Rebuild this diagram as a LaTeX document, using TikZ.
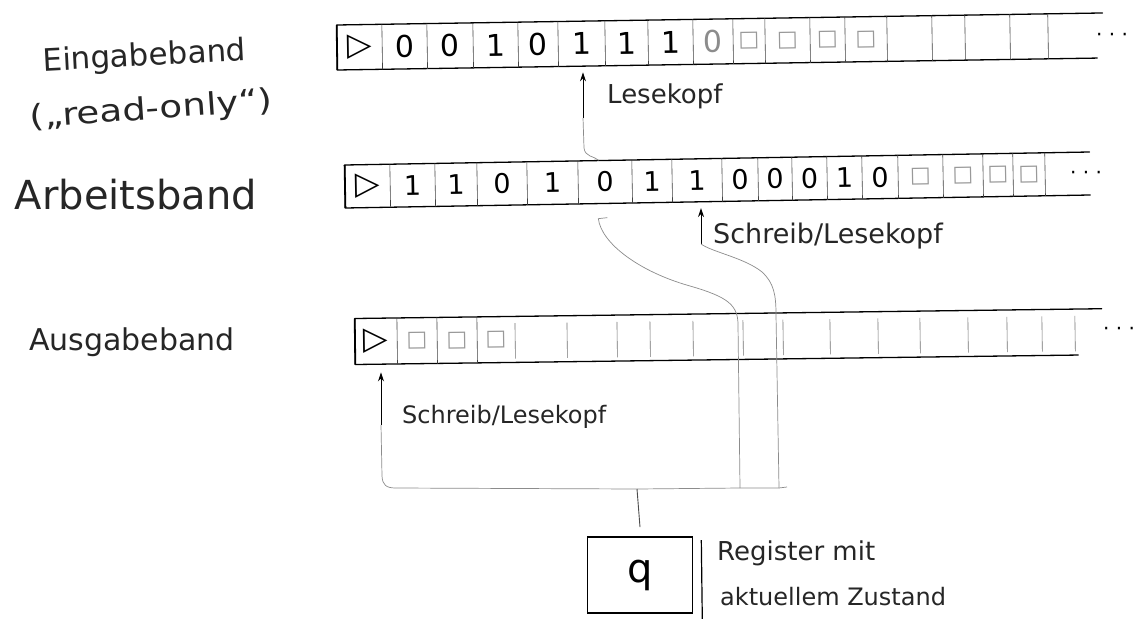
\documentclass[tikz,border=0pt]{standalone}
\usepackage{fontspec}
\setmainfont{DejaVu Sans}
\usetikzlibrary{arrows.meta}
\newcommand{\fs}[1]{\fontsize{#1}{#1}\selectfont}
\newcommand{\tpstart}{{\fontsize{32}{32}\selectfont ▷}}
\newcommand{\tpblank}{{\fontsize{22}{22}\selectfont □}}
\begin{document}
\begin{tikzpicture}[x=1pt,y=-1pt,
  tapeline/.style={line width=1.3pt, line cap=round, line join=round},
  sepline/.style={line width=0.6pt, black!75},
  sepshort/.style={line width=0.6pt, black!55, shorten <=7pt, shorten >=4pt},
  tapecell/.style={inner sep=0pt, minimum height=#1},
  conn/.style={line width=0.7pt, black!45},
  headarrow/.style={line width=1pt, -{Stealth[length=9pt,width=6pt]}, shorten >=6pt},
  hand/.style={inner sep=0pt, anchor=base west, text=black!85},
  dotsnode/.style={inner sep=0pt, font=\fs{20}},
  regbox/.style={draw, line width=1.6pt, minimum width=105, minimum height=76, inner sep=0pt, font=\fs{40}},
]
\fill[white] (0,0) rectangle (1139,618);
\useasboundingbox (0,0) rectangle (1139,618);

% ---------- labels on the left ----------
\node[hand, font=\fs{31}, rotate=3, anchor=base] (lblE1) at (145,66) {Eingabeband};
\node[hand, font=\fs{31}, rotate=4, xscale=1.2, anchor=base] (lblE2) at (152,119) {(„read-only“)};
\node[hand, font=\fs{40}, anchor=base] (lblA) at (136,209) {Arbeitsband};
\node[hand, font=\fs{30}, anchor=base] (lblO) at (132,350) {Ausgabeband};

% ---------- tape 1: Eingabeband ----------
\begin{scope}[shift={(337,47.5)}, rotate=0.9, transform shape]
  \draw[tapeline] (766,-22.5) -- (0,-22.5) -- (0,22.5) -- (760,22.5);
  \draw[line width=1.8pt] (0,-22.5) -- (0,22.5);
  \foreach \a/\b/\s/\c [count=\i from 0] in {
      0/45/\tpstart/black, 45/90/0/black, 90/136/0/black, 136/181/1/black,
      181/221/0/black, 221/268/1/black, 268/311/1/black, 311/356/1/black,
      356/396/0/black!45, 396/428/\tpblank/black!40, 428/473/\tpblank/black!40,
      473/508/\tpblank/black!40, 508/550/\tpblank/black!40, 550/595//black,
      595/628//black, 628/673//black, 673/711//black}
  {
    \node[tapecell=45, minimum width=\b-\a, text=\c, font=\fs{30}] (t1c\i) at ({(\a+\b)/2},0) {\s};
    \draw[sepline] (t1c\i.north east) -- (t1c\i.south east);
  }
\end{scope}
\node[dotsnode] (t1dots) at (1112,37) {· · ·};

% ---------- tape 2: Arbeitsband ----------
\begin{scope}[shift={(345,186.5)}, rotate=1.0, transform shape]
  \draw[tapeline] (745,-21.5) -- (0,-21.5) -- (0,21.5) -- (745,21.5);
  \draw[line width=1.8pt] (0,-21.5) -- (0,21.5);
  \foreach \a/\b/\s/\c [count=\i from 0] in {
      0/45/\tpstart/black, 45/90/1/black, 90/132/1/black, 132/182/0/black,
      182/233/1/black, 233/287/0/black, 287/327/1/black, 327/377/1/black,
      377/413/0/black, 413/447/0/black, 447/482/0/black, 482/517/1/black,
      517/553/0/black, 553/598/\tpblank/black!40, 598/638/\tpblank/black!40,
      638/668/\tpblank/black!40, 668/700/\tpblank/black!40}
  {
    \node[tapecell=43, minimum width=\b-\a, text=\c, font=\fs{27}] (t2c\i) at ({(\a+\b)/2},0) {\s};
    \draw[sepline] (t2c\i.north east) -- (t2c\i.south east);
  }
\end{scope}
\node[dotsnode] (t2dots) at (1086,175) {· · ·};

% ---------- tape 3: Ausgabeband ----------
\begin{scope}[shift={(355,341.5)}, rotate=0.75, transform shape]
  \draw[tapeline] (747,-23) -- (0,-23) -- (0,23) -- (723,23);
  \draw[line width=1.8pt] (0,-23) -- (0,23);
  \foreach \a/\b/\s/\c/\t [count=\i from 0] in {
      0/42/\tpstart/black/sepline, 42/82/\tpblank/black!40/sepline,
      82/122/\tpblank/black!40/sepline, 122/160/\tpblank/black!40/sepshort,
      160/212//black/sepshort, 212/262//black/sepshort, 262/295//black/sepshort,
      295/338//black/sepshort, 338/388//black/sepshort, 388/428//black/sepshort,
      428/475//black/sepshort, 475/523//black/sepshort, 523/565//black/sepshort,
      565/613//black/sepshort, 613/652//black/sepshort, 652/687//black/sepshort,
      687/720//black/sepshort}
  {
    \node[tapecell=46, minimum width=\b-\a, text=\c, font=\fs{27}] (t3c\i) at ({(\a+\b)/2},0) {\s};
    \draw[\t] (t3c\i.north east) -- (t3c\i.south east);
  }
\end{scope}
\node[dotsnode] (t3dots) at (1119,331) {· · ·};

% ---------- head labels ----------
\node[hand, font=\fs{26}] (lbl1) at (607,103) {Lesekopf};
\node[hand, font=\fs{27}] (lbl2) at (713,243) {Schreib/Lesekopf};
\node[hand, font=\fs{24}] (lbl3) at (402,423) {Schreib/Lesekopf};

% ---------- register ----------
\node[regbox] (q) at (640,575) {q};
\draw[line width=1.2pt] ([xshift=8pt,yshift=-4pt]q.north east) -- ([xshift=9pt,yshift=-6pt]q.south east);
\node[hand, font=\fs{26}] (lblR1) at (717,560) {Register mit};
\node[hand, font=\fs{24}] (lblR2) at (720,605) {aktuellem Zustand};

% ---------- junctions ----------
\coordinate (jq) at (637,489);
\coordinate (j1) at (740,488);
\coordinate (j2) at (779,488);
\coordinate (busR) at (787,487);
\coordinate (h1) at (583,118);
\coordinate (h2) at (701,244);
\coordinate (h3) at (381,425);

% ---------- heads and connectors ----------
\draw[headarrow] (h1) -- (h1 |- t1c5.south);
\draw[conn] (h1) -- (584,148) .. controls (585,157) and (594,156) .. ([xshift=-6pt]t2c5.north);
\draw[conn] ([xshift=2pt,yshift=-14pt]t2c5.south) -- ++(-9,1)
  .. controls +(3,25) and (640,272) .. (690,286)
  .. controls (728,297) and (738,305) .. (738,325) -- (j1);

\draw[headarrow] (h2) -- (h2 |- t2c7.south);
\draw[conn] (h2) .. controls (712,252) and (745,258) .. (762,272)
  .. controls (774,283) and (776,295) .. (776,315) -- (j2);

\draw[headarrow, shorten >=8pt] (h3) -- (h3 |- t3c0.south);
\draw[conn] (h3) -- (382,476) .. controls (382.5,485) and (386,488) .. (396,488)
  -- (jq) -- (j1) -- (j2) -- (busR);

\draw[conn, black!70, line width=0.9pt] (jq) -- ([yshift=9pt]q.north);
\end{tikzpicture}
\end{document}
